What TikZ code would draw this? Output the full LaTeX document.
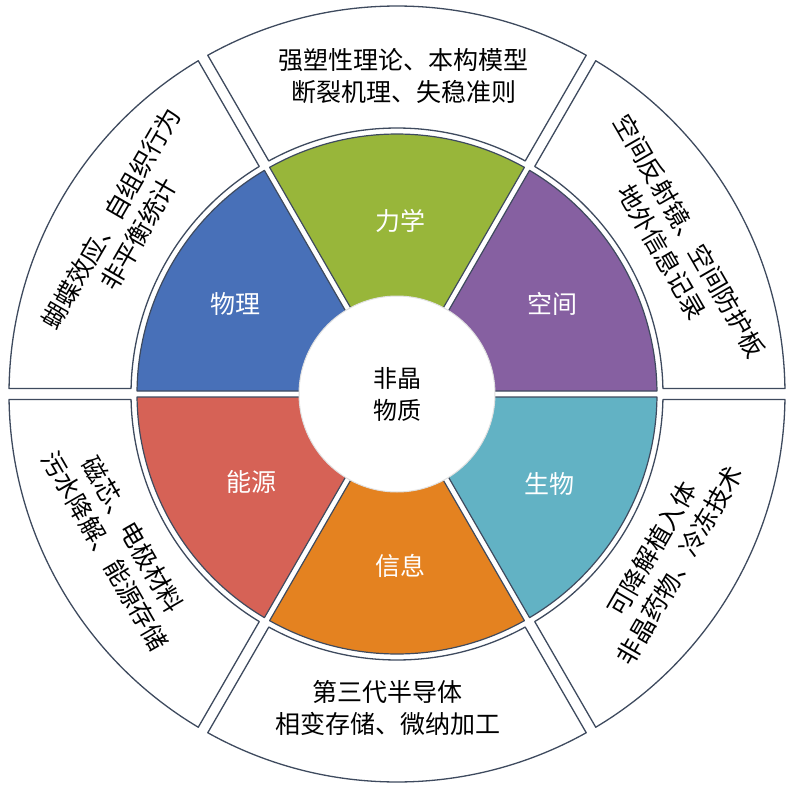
\documentclass[tikz,border=0pt]{standalone}
\usepackage{fontspec}
\newfontfamily\cjk{Noto Sans CJK SC}
\definecolor{bleu}{HTML}{4870B8}
\definecolor{vert}{HTML}{98B63A}
\definecolor{violet}{HTML}{8660A1}
\definecolor{turquoise}{HTML}{62B2C4}
\definecolor{orange}{HTML}{E48220}
\definecolor{rouge}{HTML}{D66256}
\definecolor{trait}{HTML}{3E4A5E}
\begin{document}
\begin{tikzpicture}
	% Styles
	\tikzstyle{bord}=[draw=trait, line width=1.2pt, line join=round]
	\tikzstyle{couronne}=[draw=trait, line width=1.3pt, line join=round, fill=white]
	\tikzstyle{etiquette}=[font=\cjk\fontsize{25}{30}\selectfont, text=white, inner sep=0pt]
	\tikzstyle{legende}=[font=\cjk\fontsize{25}{32}\selectfont, align=center, inner sep=0pt]
	% Dimensions
	\def\RayonCentre{98pt}
	\def\RayonA{80pt}
	\def\RayonB{260pt}
	\def\RayonC{266pt}
	\def\RayonD{388pt}
	\def\Ecart{6}
	\def\EcartExt{11}
	% Dimensions calculees
	\pgfmathsetmacro\DecA{asin(\Ecart/(2*\RayonA))}
	\pgfmathsetmacro\DecB{asin(\Ecart/(2*\RayonB))}
	\pgfmathsetmacro\DecC{asin(\EcartExt/(2*\RayonC))}
	\pgfmathsetmacro\DecD{asin(\EcartExt/(2*\RayonD))}
	% secteur : angle debut, angle fin, rayon int, rayon ext, decalages
	\def\Secteur#1#2#3#4#5#6{({#1+#6}:#4) arc[start angle={#1+#6}, end angle={#2-#6}, radius=#4] -- ({#2-#5}:#3) arc[start angle={#2-#5}, end angle={#1+#5}, radius=#3] -- cycle}
	\useasboundingbox (-397pt,-394pt) rectangle (395pt,394pt);
	% Couronne exterieure
	\draw[couronne] \Secteur{60}{120}{\RayonC}{\RayonD}{\DecC}{\DecD};
	\draw[couronne] \Secteur{120}{180}{\RayonC}{\RayonD}{\DecC}{\DecD};
	\draw[couronne] \Secteur{180}{240}{\RayonC}{\RayonD}{\DecC}{\DecD};
	\draw[couronne] \Secteur{240}{300}{\RayonC}{\RayonD}{\DecC}{\DecD};
	\draw[couronne] \Secteur{-60}{0}{\RayonC}{\RayonD}{\DecC}{\DecD};
	\draw[couronne] \Secteur{0}{60}{\RayonC}{\RayonD}{\DecC}{\DecD};
	% Secteurs colores
	\draw[bord, fill=vert] \Secteur{60}{120}{\RayonA}{\RayonB}{\DecA}{\DecB};
	\draw[bord, fill=bleu] \Secteur{120}{180}{\RayonA}{\RayonB}{\DecA}{\DecB};
	\draw[bord, fill=rouge] \Secteur{180}{240}{\RayonA}{\RayonB}{\DecA}{\DecB};
	\draw[bord, fill=orange] \Secteur{240}{300}{\RayonA}{\RayonB}{\DecA}{\DecB};
	\draw[bord, fill=turquoise] \Secteur{-60}{0}{\RayonA}{\RayonB}{\DecA}{\DecB};
	\draw[bord, fill=violet] \Secteur{0}{60}{\RayonA}{\RayonB}{\DecA}{\DecB};
	% Centre
	\node[circle, fill=white, draw=black!12, line width=1pt, minimum size=196pt, inner sep=0pt, align=center, font=\cjk\fontsize{24}{32}\selectfont] (C) at (0,0) {非晶\\物质};
	% Noeuds des secteurs
	\node[etiquette] (Meca) at (3pt,173pt) {力学};
	\node[etiquette] (Phys) at (-161pt,90pt) {物理};
	\node[etiquette] (Ener) at (-145pt,-88pt) {能源};
	\node[etiquette] (Info) at (3pt,-172pt) {信息};
	\node[etiquette] (Bio) at (152pt,-90pt) {生物};
	\node[etiquette] (Espa) at (155pt,90pt) {空间};
	% Textes de la couronne
	\node[legende] (TMeca) at (7pt,318pt) {强塑性理论、本构模型\\断裂机理、失稳准则};
	\node[legende, rotate=60] (TPhys) at (-272pt,168pt) {蝴蝶效应、自组织行为\\非平衡统计};
	\node[legende, rotate=-60] (TEner) at (-278pt,-149pt) {磁芯、电极材料\\污水降解、能源存储};
	\node[legende] (TInfo) at (-9pt,-314pt) {第三代半导体\\相变存储、微纳加工};
	\node[legende, rotate=60] (TBio) at (269pt,-163pt) {可降解植入体\\非晶药物、冷冻技术};
	\node[legende, rotate=-60] (TEspa) at (279pt,150pt) {空间反射镜、空间防护板\\地外信息记录};
\end{tikzpicture}
\end{document}
